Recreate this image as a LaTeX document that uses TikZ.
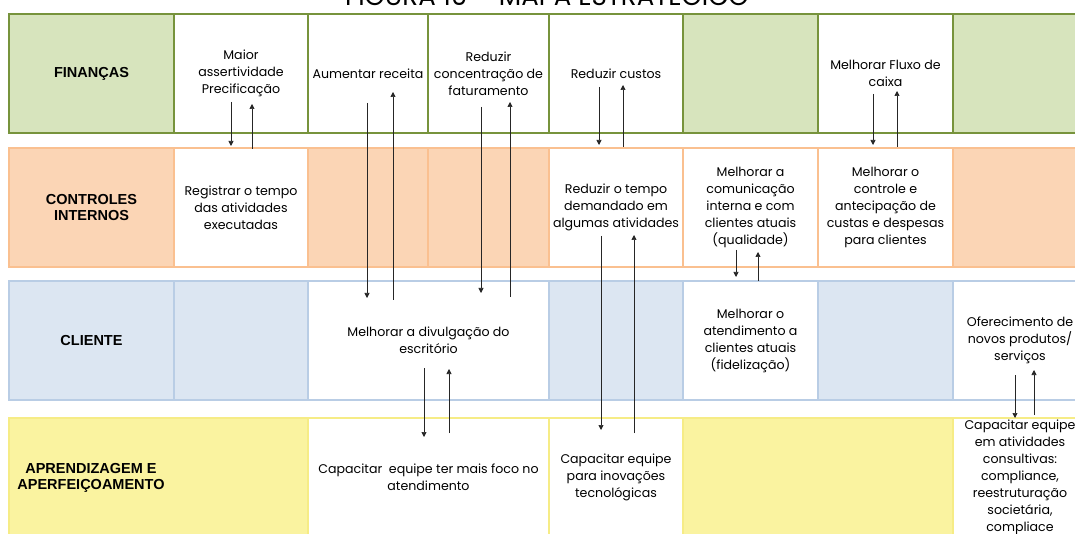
\documentclass[tikz,border=0pt]{standalone}
\usepackage{fontspec}
\setmainfont{Poppins}
\newfontfamily\lblfont{Liberation Sans}
\usetikzlibrary{arrows.meta}
\definecolor{FinGreen}{RGB}{119,147,60}
\definecolor{FinFill}{RGB}{215,228,189}
\definecolor{CtlOrange}{RGB}{250,192,144}
\definecolor{CtlFill}{RGB}{251,213,181}
\definecolor{CliBlue}{RGB}{185,205,229}
\definecolor{CliFill}{RGB}{220,230,242}
\definecolor{AprYellow}{RGB}{246,236,134}
\definecolor{AprFill}{RGB}{250,243,160}
\tikzset{
  cell/.style={rectangle,minimum height=119pt,inner sep=0pt,outer sep=0pt,align=center,font=\fontsize{12.6}{17}\selectfont},
  fincell/.style={cell,draw=FinGreen,line width=1.6pt,fill=FinFill},
  finwhite/.style={fincell,fill=white},
  ctlcell/.style={cell,draw=CtlOrange,line width=1.4pt,fill=CtlFill},
  ctlwhite/.style={ctlcell,fill=white},
  clicell/.style={cell,draw=CliBlue,line width=1.4pt,fill=CliFill},
  cliwhite/.style={clicell,fill=white},
  aprcell/.style={cell,draw=AprYellow,line width=1.4pt,fill=AprFill},
  aprwhite/.style={aprcell,fill=white},
  persp/.style={font=\lblfont\bfseries\fontsize{14.5}{16.5}\selectfont,align=center},
  link/.style={-{Triangle[length=5pt,width=5pt]},line width=0.7pt,draw=black!85}
}
\begin{document}
\begin{tikzpicture}[x=1pt,y=1pt]
\useasboundingbox (0,0) rectangle (1075,-534);
\node[font=\fontsize{26}{30}\selectfont,anchor=base] (titulo) at (547,-6) {FIGURA 10 – MAPA ESTRATÉGICO};

\node[fincell,persp,minimum width=165pt] (fin0) at (91.5,-73.5) {FINANÇAS};
\node[finwhite,minimum width=134pt] (fin1) at (241,-73.5) {Maior\\assertividade\\Precificação};
\node[finwhite,minimum width=120pt] (fin2) at (368,-73.5) {Aumentar receita};
\node[finwhite,minimum width=121pt] (fin3) at (488.5,-73.5) {Reduzir\\concentração de\\faturamento};
\node[finwhite,minimum width=134pt] (fin4) at (616,-73.5) {Reduzir custos};
\node[fincell,minimum width=135pt] (fin5) at (750.5,-73.5) {};
\node[finwhite,minimum width=135pt] (fin6) at (885.5,-73.5) {Melhorar Fluxo de\\caixa};
\node[fincell,minimum width=134pt] (fin7) at (1020,-73.5) {};

\node[ctlcell,persp,minimum width=165pt] (ctl0) at (91.5,-207.5) {CONTROLES\\INTERNOS};
\node[ctlwhite,minimum width=134pt] (ctl1) at (241,-207.5) {Registrar o tempo\\das atividades\\executadas};
\node[ctlcell,minimum width=120pt] (ctl2) at (368,-207.5) {};
\node[ctlcell,minimum width=121pt] (ctl3) at (488.5,-207.5) {};
\node[ctlwhite,minimum width=134pt] (ctl4) at (616,-207.5) {Reduzir o tempo\\demandado em\\algumas atividades};
\node[ctlwhite,minimum width=135pt] (ctl5) at (750.5,-207.5) {Melhorar a\\comunicação\\interna e com\\clientes atuais\\(qualidade)};
\node[ctlwhite,minimum width=135pt] (ctl6) at (885.5,-207.5) {Melhorar o\\controle e\\antecipação de\\custas e despesas\\para clientes};
\node[ctlcell,minimum width=134pt] (ctl7) at (1020,-207.5) {};

\node[clicell,persp,minimum width=165pt] (cli0) at (91.5,-340.5) {CLIENTE};
\node[clicell,minimum width=134pt] (cli1) at (241,-340.5) {};
\node[cliwhite,minimum width=241pt] (cli2) at (428.5,-340.5) {Melhorar a divulgação do\\escritório};
\node[clicell,minimum width=134pt] (cli3) at (616,-340.5) {};
\node[cliwhite,minimum width=135pt] (cli4) at (750.5,-340.5) {Melhorar o\\atendimento a\\clientes atuais\\(fidelização)};
\node[clicell,minimum width=135pt] (cli5) at (885.5,-340.5) {};
\node[cliwhite,minimum width=134pt] (cli6) at (1020,-340.5) {Oferecimento de\\novos produtos/\\serviços};

\node[aprcell,minimum width=299pt] (apr0) at (158.5,-477.5) {};
\node[persp] (apr0t) at (91,-478) {APRENDIZAGEM E\\APERFEIÇOAMENTO};
\node[aprwhite,minimum width=241pt] (apr1) at (428.5,-477.5) {Capacitar~ equipe ter mais foco no\\atendimento};
\node[aprwhite,minimum width=134pt] (apr2) at (616,-477.5) {Capacitar equipe\\para inovações\\tecnológicas};
\node[aprcell,minimum width=270pt] (apr3) at (818,-477.5) {};
\node[aprwhite,minimum width=134pt] (apr4) at (1020,-477.5) {Capacitar equipe\\em atividades\\consultivas:\\compliance,\\reestruturação\\societária,\\compliace};

\draw[link] ([xshift=-10pt,yshift=31pt]fin1.south) -- ([xshift=-10pt,yshift=2pt]ctl1.north);
\draw[link] ([xshift=11pt,yshift=-1pt]ctl1.north) -- ([xshift=11pt,yshift=29pt]fin1.south);
\draw[link] ([xshift=-1pt,yshift=30pt]fin2.south) -- ([xshift=-61.5pt,yshift=-17pt]cli2.north);
\draw[link] ([xshift=-35.5pt,yshift=-19pt]cli2.north) -- ([xshift=25pt,yshift=41pt]fin2.south);
\draw[link] ([xshift=-7.5pt,yshift=26pt]fin3.south) -- ([xshift=52.5pt,yshift=-12pt]cli2.north);
\draw[link] ([xshift=81.5pt,yshift=-16pt]cli2.north) -- ([xshift=21.5pt,yshift=31pt]fin3.south);
\draw[link] ([xshift=-17pt,yshift=46pt]fin4.south) -- ([xshift=-17pt,yshift=3pt]ctl4.north);
\draw[link] ([xshift=7pt,yshift=1pt]ctl4.north) -- ([xshift=7pt,yshift=48pt]fin4.south);
\draw[link] ([xshift=-12.5pt,yshift=39pt]fin6.south) -- ([xshift=-12.5pt,yshift=3pt]ctl6.north);
\draw[link] ([xshift=11.5pt,yshift=1pt]ctl6.north) -- ([xshift=11.5pt,yshift=42pt]fin6.south);
\draw[link] ([xshift=-15pt,yshift=31pt]ctl4.south) -- ([xshift=-15pt,yshift=-12pt]apr2.north);
\draw[link] ([xshift=18pt,yshift=-15pt]apr2.north) -- ([xshift=18pt,yshift=32pt]ctl4.south);
\draw[link] ([xshift=-14.5pt,yshift=17pt]ctl5.south) -- ([xshift=-14.5pt,yshift=4pt]cli4.north);
\draw[link] ([xshift=7.5pt]cli4.north) -- ([xshift=7.5pt,yshift=15pt]ctl5.south);
\draw[link] ([xshift=-4.5pt,yshift=32pt]cli2.south) -- ([xshift=-4.5pt,yshift=-19pt]apr1.north);
\draw[link] ([xshift=20.5pt,yshift=-15pt]apr1.north) -- ([xshift=20.5pt,yshift=31pt]cli2.south);
\draw[link] ([xshift=-5pt,yshift=25pt]cli6.south) -- ([xshift=-5pt]apr4.north);
\draw[link] ([xshift=14pt,yshift=3pt]apr4.north) -- ([xshift=14pt,yshift=30pt]cli6.south);
\end{tikzpicture}
\end{document}
